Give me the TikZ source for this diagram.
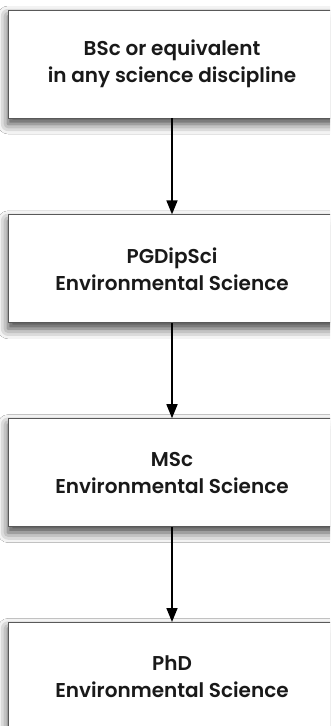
\documentclass[tikz,border=0pt]{standalone}
\usepackage{fontspec}
\setmainfont{Poppins}[UprightFont={* SemiBold}]
\usetikzlibrary{positioning,arrows.meta,shadows.blur}

\begin{document}
\begin{tikzpicture}[x=1pt,y=1pt]
    \tikzstyle{stage}=[draw=black!65, line width=0.8pt, fill=white,
      minimum width=328pt, minimum height=108pt, align=center,
      font=\fontsize{20}{27}\selectfont, text=black!90,
      blur shadow={shadow xshift=0pt, shadow yshift=-6pt, shadow blur radius=10pt, shadow opacity=75}]
    \tikzstyle{link}=[-{Triangle[length=14pt,width=11pt]}, line width=1.6pt]
    \clip (0,0) rectangle (330,-726);
    \fill[white] (0,0) rectangle (330,-726);
    \node[stage] (bsc) at (172,-64) {BSc or equivalent\\in any science discipline};
    \node[stage, below=96pt of bsc] (pgdip) {PGDipSci\\Environmental Science};
    \node[stage, below=95pt of pgdip] (msc) {MSc\\Environmental Science};
    \node[stage, below=95pt of msc] (phd) {PhD\\Environmental Science};
    \draw[link] (bsc) -- (pgdip);
    \draw[link] (pgdip) -- (msc);
    \draw[link] (msc) -- (phd);
  \end{tikzpicture}
\end{document}
